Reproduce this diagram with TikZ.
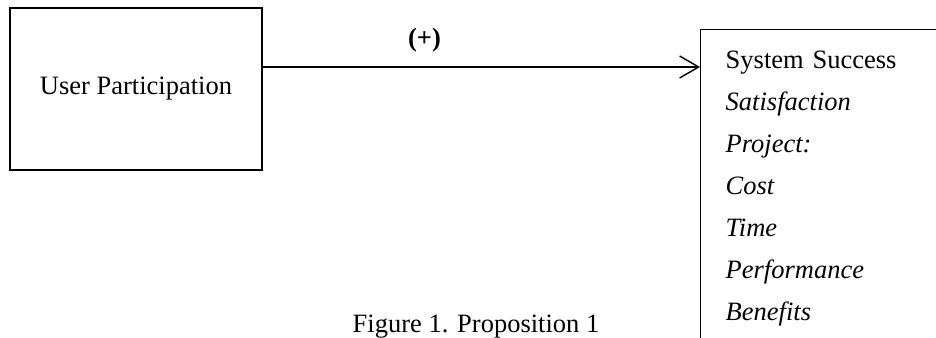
\documentclass[tikz,border=0pt]{standalone}
\usepackage{fontspec}
\setmainfont{Liberation Serif}
\usetikzlibrary{arrows.meta, positioning}
\tikzstyle{arrow} = [line width=1.4pt,-{Straight Barb[length=19pt,width=22pt,line width=1.4pt]}]
\tikzstyle{construct} = [rectangle, draw=black, line width=1.4pt, font=\fontsize{26.5}{42}\selectfont]

\begin{document}
\begin{tikzpicture}[x=1pt, y=-1pt]
\clip (0,0) rectangle (936,337);

% Constructs
\node (user) [construct, minimum width=252pt, minimum height=162pt] at (136,89) {User Participation};
\node (success) [construct, anchor=north west, inner xsep=22pt, inner ysep=8pt, minimum width=300pt, minimum height=318pt, align=left, text width=250pt] at (700,29)
  {System Success\\ \textit{Satisfaction}\\ \textit{Project:}\\ \textit{Cost}\\ \textit{Time}\\ \textit{Performance}\\ \textit{Benefits}};

% Proposition
\draw [arrow] ([yshift=22pt]user.east) -- ([yshift=22pt]user.east -| success.west)
  node [above, pos=0.37, yshift=11pt, font=\fontsize{26.5}{32}\selectfont\bfseries] (sign) {(+)};

% Caption
\node (caption) [anchor=base, font=\fontsize{26.5}{32}\selectfont] at (476,332) {Figure 1. Proposition 1};

\end{tikzpicture}
\end{document}
